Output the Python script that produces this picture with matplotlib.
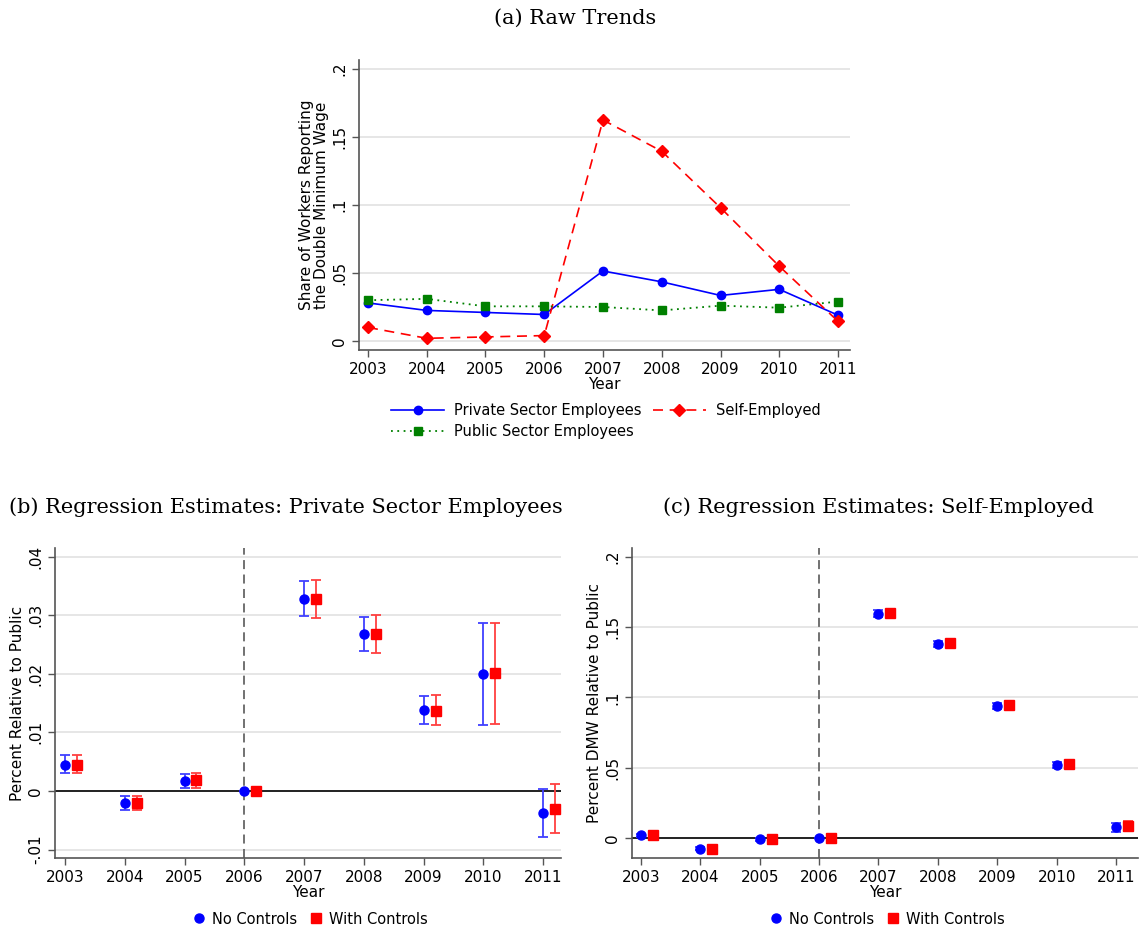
import matplotlib
matplotlib.use("Agg")
import matplotlib.pyplot as plt
from matplotlib.ticker import FixedLocator, FuncFormatter
import numpy as np

years = [2003, 2004, 2005, 2006, 2007, 2008, 2009, 2010, 2011]

# Panel (a) raw trends
private_share = [0.028, 0.0225, 0.021, 0.0195, 0.0515, 0.0435, 0.0335, 0.038, 0.019]
self_share = [0.010, 0.002, 0.003, 0.004, 0.1625, 0.1395, 0.098, 0.055, 0.0145]
public_share = [0.030, 0.031, 0.0255, 0.0255, 0.025, 0.0225, 0.026, 0.0245, 0.029]

# Panel (b) private sector estimates
b_nc = [0.0045, -0.0021, 0.0017, 0.0, 0.0328, 0.0268, 0.0139, 0.0200, -0.0038]
b_nc_lo = [0.0030, -0.0033, 0.0005, 0.0, 0.0298, 0.0239, 0.0115, 0.0112, -0.0078]
b_nc_hi = [0.0061, -0.0009, 0.0029, 0.0, 0.0358, 0.0297, 0.0162, 0.0287, 0.0003]
b_wc = [0.0045, -0.0021, 0.0018, 0.0, 0.0328, 0.0268, 0.0137, 0.0201, -0.0030]
b_wc_lo = [0.0030, -0.0033, 0.0005, 0.0, 0.0296, 0.0235, 0.0112, 0.0115, -0.0072]
b_wc_hi = [0.0061, -0.0009, 0.0030, 0.0, 0.0360, 0.0300, 0.0164, 0.0287, 0.0012]

# Panel (c) self-employed estimates
c_nc = [0.002, -0.0075, -0.0008, 0.0, 0.1595, 0.138, 0.094, 0.052, 0.0075]
c_nc_lo = [0.001, -0.0085, -0.0018, 0.0, 0.157, 0.136, 0.092, 0.050, 0.004]
c_nc_hi = [0.003, -0.0065, 0.0002, 0.0, 0.162, 0.140, 0.096, 0.054, 0.011]
c_wc = [0.002, -0.0075, -0.0008, 0.0, 0.1598, 0.1385, 0.0945, 0.053, 0.0085]
c_wc_lo = [0.001, -0.0085, -0.0018, 0.0, 0.157, 0.136, 0.092, 0.051, 0.005]
c_wc_hi = [0.003, -0.0065, 0.0002, 0.0, 0.162, 0.141, 0.097, 0.055, 0.012]

a_yticks = [0, 0.05, 0.1, 0.15, 0.2]
b_yticks = [-0.01, 0, 0.01, 0.02, 0.03, 0.04]
c_yticks = [0, 0.05, 0.1, 0.15, 0.2]

plt.rcParams['font.family'] = ['DejaVu Sans']

def stata_fmt(v, pos=None):
    if abs(v) < 1e-12:
        return "0"
    s = ("%g" % v)
    s = s.replace("0.", ".")
    return s

def style_axes(ax, yticks):
    ax.yaxis.set_major_locator(FixedLocator(yticks))
    ax.yaxis.set_major_formatter(FuncFormatter(stata_fmt))
    ax.set_xticks(years)
    ax.set_xticklabels([str(y) for y in years])
    for lab in ax.get_yticklabels():
        lab.set_rotation(90)
        lab.set_va('center')
    ax.tick_params(axis='both', labelsize=11, length=5, color='#555555', width=1)
    ax.spines['top'].set_visible(False)
    ax.spines['right'].set_visible(False)
    for sp in ['left', 'bottom']:
        ax.spines[sp].set_color('#555555')
        ax.spines[sp].set_linewidth(1.2)
    ax.grid(axis='y', color='#e4e4e4', linewidth=1.3)
    ax.set_axisbelow(True)
    ax.set_xlabel('Year', fontsize=11, labelpad=0)

W, H = 1141, 931
fig = plt.figure(figsize=(W / 100, H / 100), dpi=100)

def frac(l, t, r, b):
    return [l / W, 1 - b / H, (r - l) / W, (b - t) / H]

title_font = dict(family='DejaVu Serif', fontsize=15)

# (a)
ax = fig.add_axes(frac(359, 60, 850, 350))
ax.plot(years, private_share, color='#0000ff', lw=1.2, marker='o', ms=6, label='Private Sector Employees')
ax.plot(years, self_share, color='#ff0000', lw=1.2, ls=(0, (6, 4)), marker='D', ms=6, label='Self-Employed')
ax.plot(years, public_share, color='#008000', lw=1.3, ls=(0, (1, 2.5)), marker='s', ms=6, label='Public Sector Employees')
ax.set_xlim(2002.847, 2011.204)
ax.set_ylim(-0.0066, 0.2066)
style_axes(ax, a_yticks)
ax.set_ylabel('Share of Workers Reporting\nthe Double Minimum Wage', fontsize=11, linespacing=1.0, labelpad=2)
handles, labels = ax.get_legend_handles_labels()
order = [0, 2, 1]
fig.legend([handles[i] for i in order], [labels[i] for i in order], ncol=2, frameon=False,
           loc='center', bbox_to_anchor=(606 / W, 1 - 421 / H), fontsize=10.5,
           handlelength=3.6, columnspacing=0.8, labelspacing=0.4, handletextpad=0.7)
fig.text(575 / W, 1 - 18 / H, '(a) Raw Trends', ha='center', va='center', **title_font)

def est_panel(box, xl, yl, yticks, nc, nclo, nchi, wc, wclo, wchi, ylabel, title, title_x, leg_x):
    ax = fig.add_axes(frac(*box))
    yrs = np.array(years, dtype=float)
    nc = np.array(nc); wc = np.array(wc)
    e_nc = [nc - np.array(nclo), np.array(nchi) - nc]
    e_wc = [wc - np.array(wclo), np.array(wchi) - wc]
    ax.axvline(2006, color='#666666', ls=(0, (5, 3)), lw=1.3, zorder=1)
    ax.axhline(0, color='black', lw=1.2, zorder=1)
    ax.errorbar(yrs, nc, yerr=e_nc, fmt='o', color='#0000ff', ecolor='#4040ff', ms=6.5,
                capsize=3.5, elinewidth=1.3, capthick=1.3, label='No Controls', zorder=3)
    ax.errorbar(yrs + 0.2, wc, yerr=e_wc, fmt='s', color='#ff0000', ecolor='#ff4040', ms=6.5,
                capsize=3.5, elinewidth=1.3, capthick=1.3, label='With Controls', zorder=3)
    ax.set_xlim(*xl)
    ax.set_ylim(*yl)
    style_axes(ax, yticks)
    ax.set_ylabel(ylabel, fontsize=11, labelpad=2)
    h, l = ax.get_legend_handles_labels()
    h = [hh[0] for hh in h]
    fig.legend(h, l, ncol=2, frameon=False, loc='center', bbox_to_anchor=(leg_x / W, 1 - 919 / H),
               fontsize=10.5, handlelength=1.0, columnspacing=0.8, handletextpad=0.4)
    fig.text(title_x / W, 1 - 507 / H, title, ha='center', va='center', **title_font)
    return ax

est_panel((55, 548, 561, 858), (2002.833, 2011.3), (-0.01145, 0.0415), b_yticks,
          b_nc, b_nc_lo, b_nc_hi, b_wc, b_wc_lo, b_wc_hi,
          'Percent Relative to Public', '(b) Regression Estimates: Private Sector Employees', 286, 310)
est_panel((632, 548, 1138, 858), (2002.85, 2011.37), (-0.01423, 0.2064), c_yticks,
          c_nc, c_nc_lo, c_nc_hi, c_wc, c_wc_lo, c_wc_hi,
          'Percent DMW Relative to Public', '(c) Regression Estimates: Self-Employed', 878, 887)

fig.savefig('out.png', dpi=100)
